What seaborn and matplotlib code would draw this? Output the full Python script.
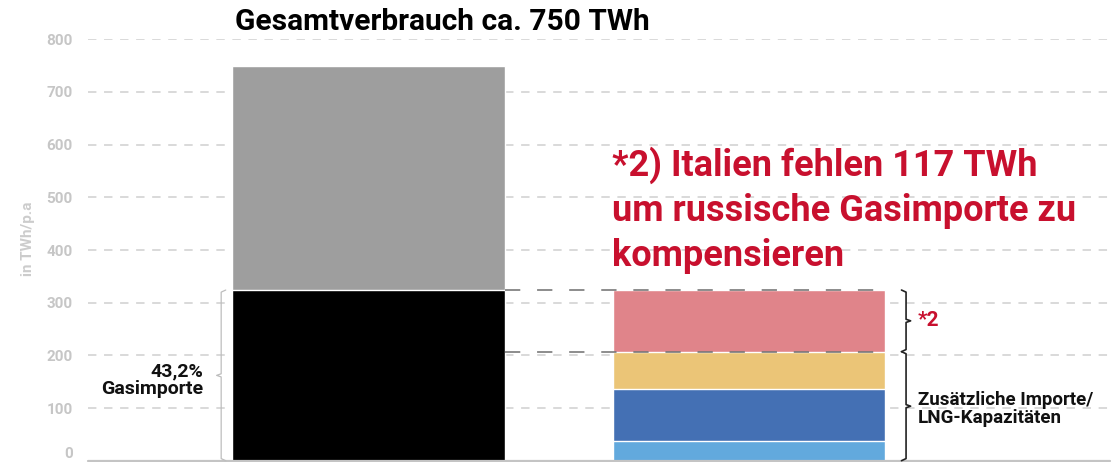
import numpy as np
import pandas as pd
import matplotlib
matplotlib.use("Agg")
import matplotlib.pyplot as plt
import seaborn as sns

# Werte in TWh/p.a
bars = ["Gesamt", "Ersatz"]
gesamtverbrauch = 750
gasimporte = 324
ersatz_teile = ["Quelle A", "Quelle B", "Quelle C", "fehlt (*2)"]
ersatz_werte = [38, 99, 70, 117]
ersatz_farben = ["#62a9dd", "#4470b4", "#ebc577", "#e0848a"]
yticks = [0, 100, 200, 300, 400, 500, 600, 700, 800]

sns.set_theme(style="white")
plt.rcParams["font.family"] = ["Roboto", "DejaVu Sans"]

W, H = 1119, 462
fig = plt.figure(figsize=(W / 100, H / 100), dpi=100)
ax = fig.add_axes([88 / W, 1.3 / H, (1110 - 88) / W, (460.7 - 39.3) / H])

# gestapelte Balken: kumulierte Summen von gross nach klein uebereinander
kum = np.cumsum(ersatz_werte)
layers = [
    ([gesamtverbrauch, kum[3]], ["#9e9e9e", ersatz_farben[3]]),
    ([gasimporte, kum[2]], ["#000000", ersatz_farben[2]]),
    ([0, kum[1]], ["#000000", ersatz_farben[1]]),
    ([0, kum[0]], ["#000000", ersatz_farben[0]]),
]
for vals, cols in layers:
    d = pd.DataFrame({"bar": bars, "wert": vals})
    sns.barplot(data=d, x="bar", y="wert", hue="bar", palette=cols, order=bars,
                width=0.717, legend=False, ax=ax, saturation=1, zorder=3)

ax.set_xlim(-0.737, 1.949)
ax.set_ylim(0, 800)
ax.set_yticks(yticks)
ax.set_xticks([])
ax.set_xlabel("")
ax.set_ylabel("")
for s in ax.spines.values():
    s.set_visible(False)
ax.tick_params(axis="y", length=0, pad=11, labelsize=11, labelcolor="#c6c6c6")
for t in ax.get_yticklabels():
    t.set_fontweight("bold")
ax.get_yticklabels()[0].set_verticalalignment("bottom")
for y in yticks[1:]:
    ax.axhline(y, color="#cfcfcf", lw=1.1, ls=(0, (5.5, 5)), zorder=1)
ax.axhline(0, color="#c4c4c4", lw=1.6, zorder=4, clip_on=False)

# dunkle Hilfslinien vom schwarzen Balken zum rechten Balken
x_a, x_b = 0.3585, 1.3585
for y in [gasimporte, kum[2]]:
    ax.plot([x_a, x_b], [y, y], color="#6e6e6e", lw=1.1, ls=(0, (10, 11)), zorder=5)


def klammer(x, y0, y1, seite, farbe, lw):
    # einfache geschweifte Klammer, Spitze zeigt nach "seite" (+1 rechts, -1 links)
    h = 0.012 * seite
    ym = (y0 + y1) / 2
    ax.plot([x - h, x, x, x + h, x, x, x - h],
            [y1, y1 - 4, ym + 3, ym, ym - 3, y0 + 4, y0],
            color=farbe, lw=lw, zorder=5, clip_on=False, solid_joinstyle="round")


klammer(-0.387, 0, gasimporte, -1, "#bdbdbd", 0.9)
klammer(1.413, kum[2], kum[3], 1, "#222222", 1.2)
klammer(1.413, 0, kum[2], 1, "#222222", 1.2)

ax.text(-0.435, 153, "43,2%\nGasimporte", ha="right", va="center", fontsize=14,
        fontweight="bold", color="#111111", linespacing=0.95)
ax.text(1.444, 267, "*2", ha="left", va="center", fontsize=15,
        fontweight="bold", color="#c8102e")
ax.text(1.444, 98, "Zusätzliche Importe/\nLNG-Kapazitäten", ha="left", va="center",
        fontsize=13.5, fontweight="bold", color="#111111", linespacing=1.0)
ax.text(0.64, 476, "*2) Italien fehlen 117 TWh\num russische Gasimporte zu\nkompensieren",
        ha="left", va="center", fontsize=26, fontweight="bold", color="#c8102e",
        linespacing=1.32)

fig.text(235 / W, 1 - 22 / H, "Gesamtverbrauch ca. 750 TWh", ha="left", va="center",
         fontsize=21.5, fontweight="bold", color="#000000")
fig.text(28 / W, 1 - 239 / H, "in TWh/p.a", rotation=90, ha="center", va="center",
         fontsize=11, fontweight="bold", color="#cccccc")

fig.savefig("out.png", dpi=100)
